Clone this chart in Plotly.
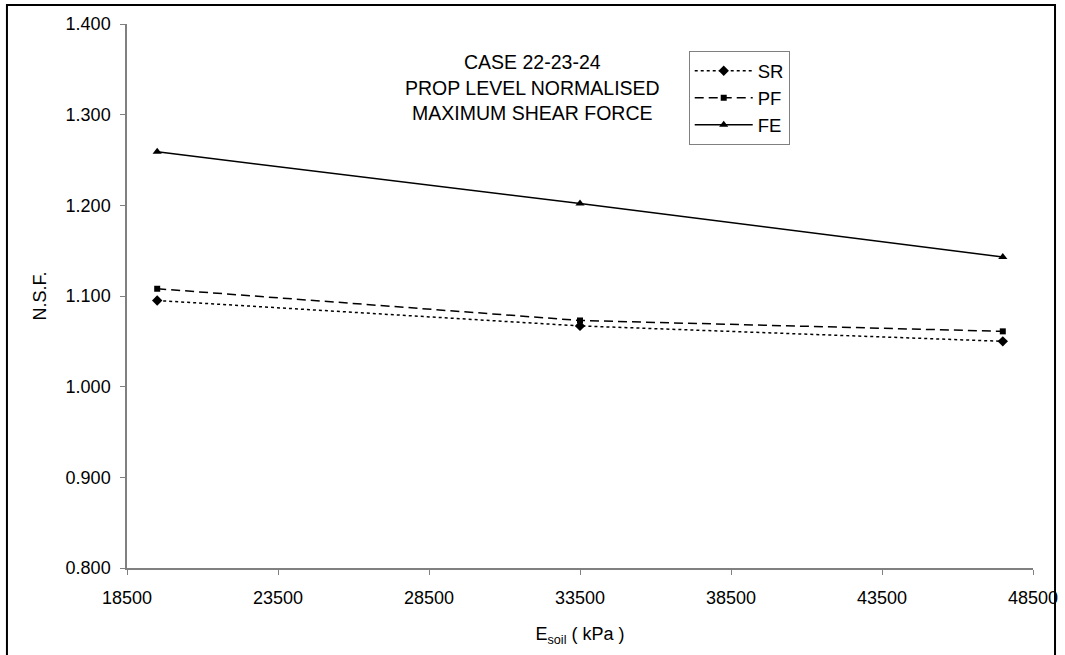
import plotly.graph_objects as go

# Soil modulus values (kPa)
e_soil = [19500, 33500, 47500]

# Normalised maximum shear force at prop level
sr_values = [1.095, 1.067, 1.050]
pf_values = [1.108, 1.073, 1.061]
fe_values = [1.259, 1.202, 1.143]

x_ticks = [18500, 23500, 28500, 33500, 38500, 43500, 48500]
y_ticks = [0.8, 0.9, 1.0, 1.1, 1.2, 1.3, 1.4]

title_lines = ["CASE 22-23-24", "PROP LEVEL NORMALISED", "MAXIMUM SHEAR FORCE"]

FONT = "Liberation Sans, Arial, sans-serif"
AXIS_GREY = "#808080"

fig = go.Figure()

fig.add_trace(go.Scatter(
    x=e_soil, y=sr_values, name="SR", mode="lines+markers",
    line=dict(color="black", width=1.5, dash="3px,3px"),
    marker=dict(symbol="diamond", size=8, color="black"),
))
fig.add_trace(go.Scatter(
    x=e_soil, y=pf_values, name="PF", mode="lines+markers",
    line=dict(color="black", width=1.5, dash="9px,5px"),
    marker=dict(symbol="square", size=6, color="black"),
))
fig.add_trace(go.Scatter(
    x=e_soil, y=fe_values, name="FE", mode="lines+markers",
    line=dict(color="black", width=1.5),
    marker=dict(symbol="triangle-up", size=8, color="black"),
))

# Stacked chart caption inside the plot area
for i, line in enumerate(title_lines):
    fig.add_annotation(
        x=0.448, y=0.930 - i * 0.047, xref="paper", yref="paper",
        text=line, showarrow=False, xanchor="center", yanchor="middle",
        font=dict(family=FONT, size=19.5, color="black"),
    )

# Outer frame around the whole chart
fig.add_shape(
    type="rect", xref="paper", yref="paper",
    x0=-0.1325, x1=1.0243, y0=-0.3, y1=1.0349,
    line=dict(color="black", width=2), fillcolor="rgba(0,0,0,0)",
)

fig.update_layout(
    width=1065, height=655,
    margin=dict(l=127, r=32, t=24, b=87, autoexpand=False),
    paper_bgcolor="white", plot_bgcolor="white",
    font=dict(family=FONT, size=18, color="black"),
    showlegend=True,
    legend=dict(
        x=0.620, y=0.950, xanchor="left", yanchor="top",
        bordercolor=AXIS_GREY, borderwidth=1, bgcolor="white",
        font=dict(family=FONT, size=18.5, color="black"),
        tracegroupgap=0, itemwidth=58,
    ),
    xaxis=dict(
        range=[18500, 48500], tickvals=x_ticks,
        ticktext=[str(v) for v in x_ticks],
        showgrid=False, zeroline=False, showline=True,
        linecolor=AXIS_GREY, linewidth=1.5,
        ticks="outside", ticklen=5, tickcolor=AXIS_GREY, tickwidth=1,
        ticklabelstandoff=8,
        title=dict(text="E<sub>soil</sub> ( kPa )", standoff=20,
                   font=dict(family=FONT, size=18)),
        automargin=False,
    ),
    yaxis=dict(
        range=[0.8, 1.4], tickvals=y_ticks,
        ticktext=[f"{v:.3f}" for v in y_ticks],
        showgrid=False, zeroline=False, showline=True,
        linecolor=AXIS_GREY, linewidth=1.5,
        ticks="outside", ticklen=5, tickcolor=AXIS_GREY, tickwidth=1,
        ticklabelstandoff=6,
        title=dict(text="N.S.F.", standoff=14,
                   font=dict(family=FONT, size=18)),
        automargin=False,
    ),
)

fig.write_html("out.html")
